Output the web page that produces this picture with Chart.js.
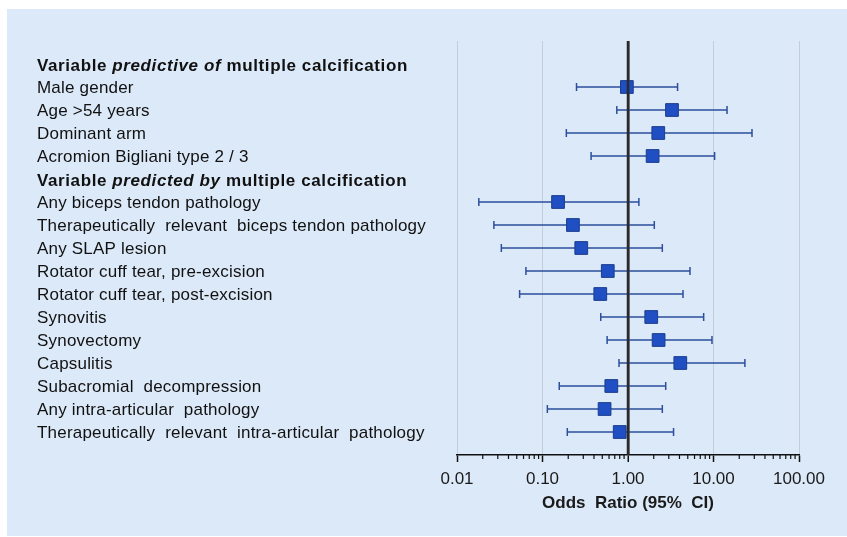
<!DOCTYPE html>
<html>
<head>
<meta charset="utf-8">
<script src="https://cdn.jsdelivr.net/npm/chart.js@4.4.1/dist/chart.umd.min.js"></script>
<style>
  body { margin: 0; background: #fff; }
  #wrap { width: 847px; height: 537px; position: relative; }
</style>
</head>
<body>
<div id="wrap"><canvas id="forest" width="847" height="537"></canvas></div>
<script>
// rows top to bottom, null values are the section headers
const rowLabels = [
    null,
    'Male gender',
    'Age >54 years',
    'Dominant arm',
    'Acromion Bigliani type 2 / 3',
    null,
    'Any biceps tendon pathology',
    'Therapeutically  relevant  biceps tendon pathology',
    'Any SLAP lesion',
    'Rotator cuff tear, pre-excision',
    'Rotator cuff tear, post-excision',
    'Synovitis',
    'Synovectomy',
    'Capsulitis',
    'Subacromial  decompression',
    'Any intra-articular  pathology',
    'Therapeutically  relevant  intra-articular  pathology'
];
// header parts: [text, italic]
const headerParts = {
    0: [['Variable ', false], ['predictive of', true], [' multiple calcification', false]],
    5: [['Variable ', false], ['predicted by', true], [' multiple calcification', false]]
};
const oddsRatio = [null, 0.97, 3.27, 2.26, 1.94, null, 0.152, 0.227, 0.284, 0.58, 0.474, 1.87, 2.28, 4.09, 0.638, 0.532, 0.80];
const ciLower   = [null, 0.25, 0.74, 0.19, 0.37, null, 0.018, 0.027, 0.033, 0.064, 0.054, 0.48, 0.57, 0.785, 0.157, 0.114, 0.195];
const ciUpper   = [null, 3.80, 14.4, 28.2, 10.3, null, 1.34, 2.03, 2.52, 5.31, 4.40, 7.67, 9.6, 23.3, 2.76, 2.52, 3.41];

const tickValues = [0.01, 0.1, 1, 10, 100];
const tickLabels = ['0.01', '0.10', '1.00', '10.00', '100.00'];

const points = [];
oddsRatio.forEach((v, i) => {
    if (v !== null) points.push({ x: v, y: i });
});

const panelPlugin = {
    id: 'panel',
    beforeDraw(chart) {
        const ctx = chart.ctx;
        ctx.save();
        ctx.fillStyle = '#dce9f8';
        ctx.fillRect(7, 9, 840, 527);
        ctx.restore();
    }
};

const errorBars = {
    id: 'errorBars',
    beforeDatasetsDraw(chart) {
        const ctx = chart.ctx;
        const xs = chart.scales.x, ys = chart.scales.y;
        ctx.save();
        ctx.strokeStyle = '#2d4f9c';
        ctx.lineWidth = 1.5;
        oddsRatio.forEach((v, i) => {
            if (v === null) return;
            const y = ys.getPixelForValue(i);
            const x1 = xs.getPixelForValue(ciLower[i]);
            const x2 = xs.getPixelForValue(ciUpper[i]);
            ctx.beginPath();
            ctx.moveTo(x1, y); ctx.lineTo(x2, y);
            ctx.moveTo(x1, y - 4); ctx.lineTo(x1, y + 4);
            ctx.moveTo(x2, y - 4); ctx.lineTo(x2, y + 4);
            ctx.stroke();
        });
        ctx.restore();
    },
    afterDatasetsDraw(chart) {
        // line of no effect, drawn over the markers
        const ctx = chart.ctx;
        const xs = chart.scales.x;
        const px = xs.getPixelForValue(1);
        ctx.save();
        ctx.strokeStyle = '#2a2a2a';
        ctx.lineWidth = 2.5;
        ctx.beginPath();
        ctx.moveTo(px, chart.chartArea.top);
        ctx.lineTo(px, chart.chartArea.bottom);
        ctx.stroke();
        ctx.restore();
    }
};

// row labels on the left, headers in bold with an italic part
const rowText = {
    id: 'rowText',
    afterDraw(chart) {
        const ctx = chart.ctx;
        const ys = chart.scales.y;
        ctx.save();
        ctx.fillStyle = '#111';
        ctx.textBaseline = 'middle';
        rowLabels.forEach((lab, i) => {
            const y = ys.getPixelForValue(i) + 1;
            let x = 37;
            if (lab === null) {
                ctx.letterSpacing = '0.6px';
                headerParts[i].forEach(([t, it]) => {
                    ctx.font = (it ? 'italic ' : '') + 'bold 17px Arial';
                    ctx.fillText(t, x, y + 1);
                    x += ctx.measureText(t).width;
                });
            } else {
                ctx.letterSpacing = '0.2px';
                ctx.font = '17px Arial';
                ctx.fillText(lab, x, y);
            }
        });
        ctx.letterSpacing = '0px';
        // minor log ticks under the axis
        const xs = chart.scales.x;
        ctx.strokeStyle = '#111';
        ctx.lineWidth = 1.2;
        ctx.beginPath();
        for (let d = 0; d < 4; d++) {
            for (let m = 2; m < 10; m++) {
                const px = xs.getPixelForValue(tickValues[d] * m);
                ctx.moveTo(px, xs.top);
                ctx.lineTo(px, xs.top + 4);
            }
        }
        ctx.stroke();
        ctx.restore();
    }
};

new Chart(document.getElementById('forest'), {
    type: 'scatter',
    data: {
        datasets: [{
            data: points,
            pointStyle: 'rect',
            pointRadius: 9,
            backgroundColor: '#1f4fc2',
            borderColor: '#1b3d8e',
            borderWidth: 1
        }]
    },
    options: {
        responsive: false,
        animation: false,
        layout: { padding: { left: 457, right: 48, top: 41, bottom: 19 } },
        plugins: { legend: { display: false }, tooltip: { enabled: false } },
        scales: {
            x: {
                type: 'logarithmic',
                min: 0.01,
                max: 100,
                afterBuildTicks: scale => {
                    scale.ticks = tickValues.map(v => ({ value: v, major: true }));
                },
                afterFit: scale => { scale.height = 63; },
                ticks: {
                    autoSkip: false,
                    maxRotation: 0,
                    padding: 7,
                    color: '#1a1a1a',
                    font: { family: 'Arial', size: 17 },
                    callback: (v, i) => tickLabels[i]
                },
                grid: {
                    color: c => (c.tick && c.tick.value === 1) ? '#2a2a2a' : '#c4ccd6',
                    lineWidth: c => (c.tick && c.tick.value === 1) ? 2.5 : 1,
                    tickColor: '#111',
                    tickLength: 7,
                    tickWidth: 1.5
                },
                border: { color: '#111', width: 1.5 },
                title: {
                    display: true,
                    text: 'Odds  Ratio (95%  CI)',
                    color: '#1a1a1a',
                    font: { family: 'Arial', size: 17, weight: 'bold' },
                    padding: { top: 4 }
                }
            },
            y: {
                display: false,
                min: -1,
                max: 17,
                reverse: true
            }
        }
    },
    plugins: [panelPlugin, errorBars, rowText]
});
</script>
</body>
</html>
